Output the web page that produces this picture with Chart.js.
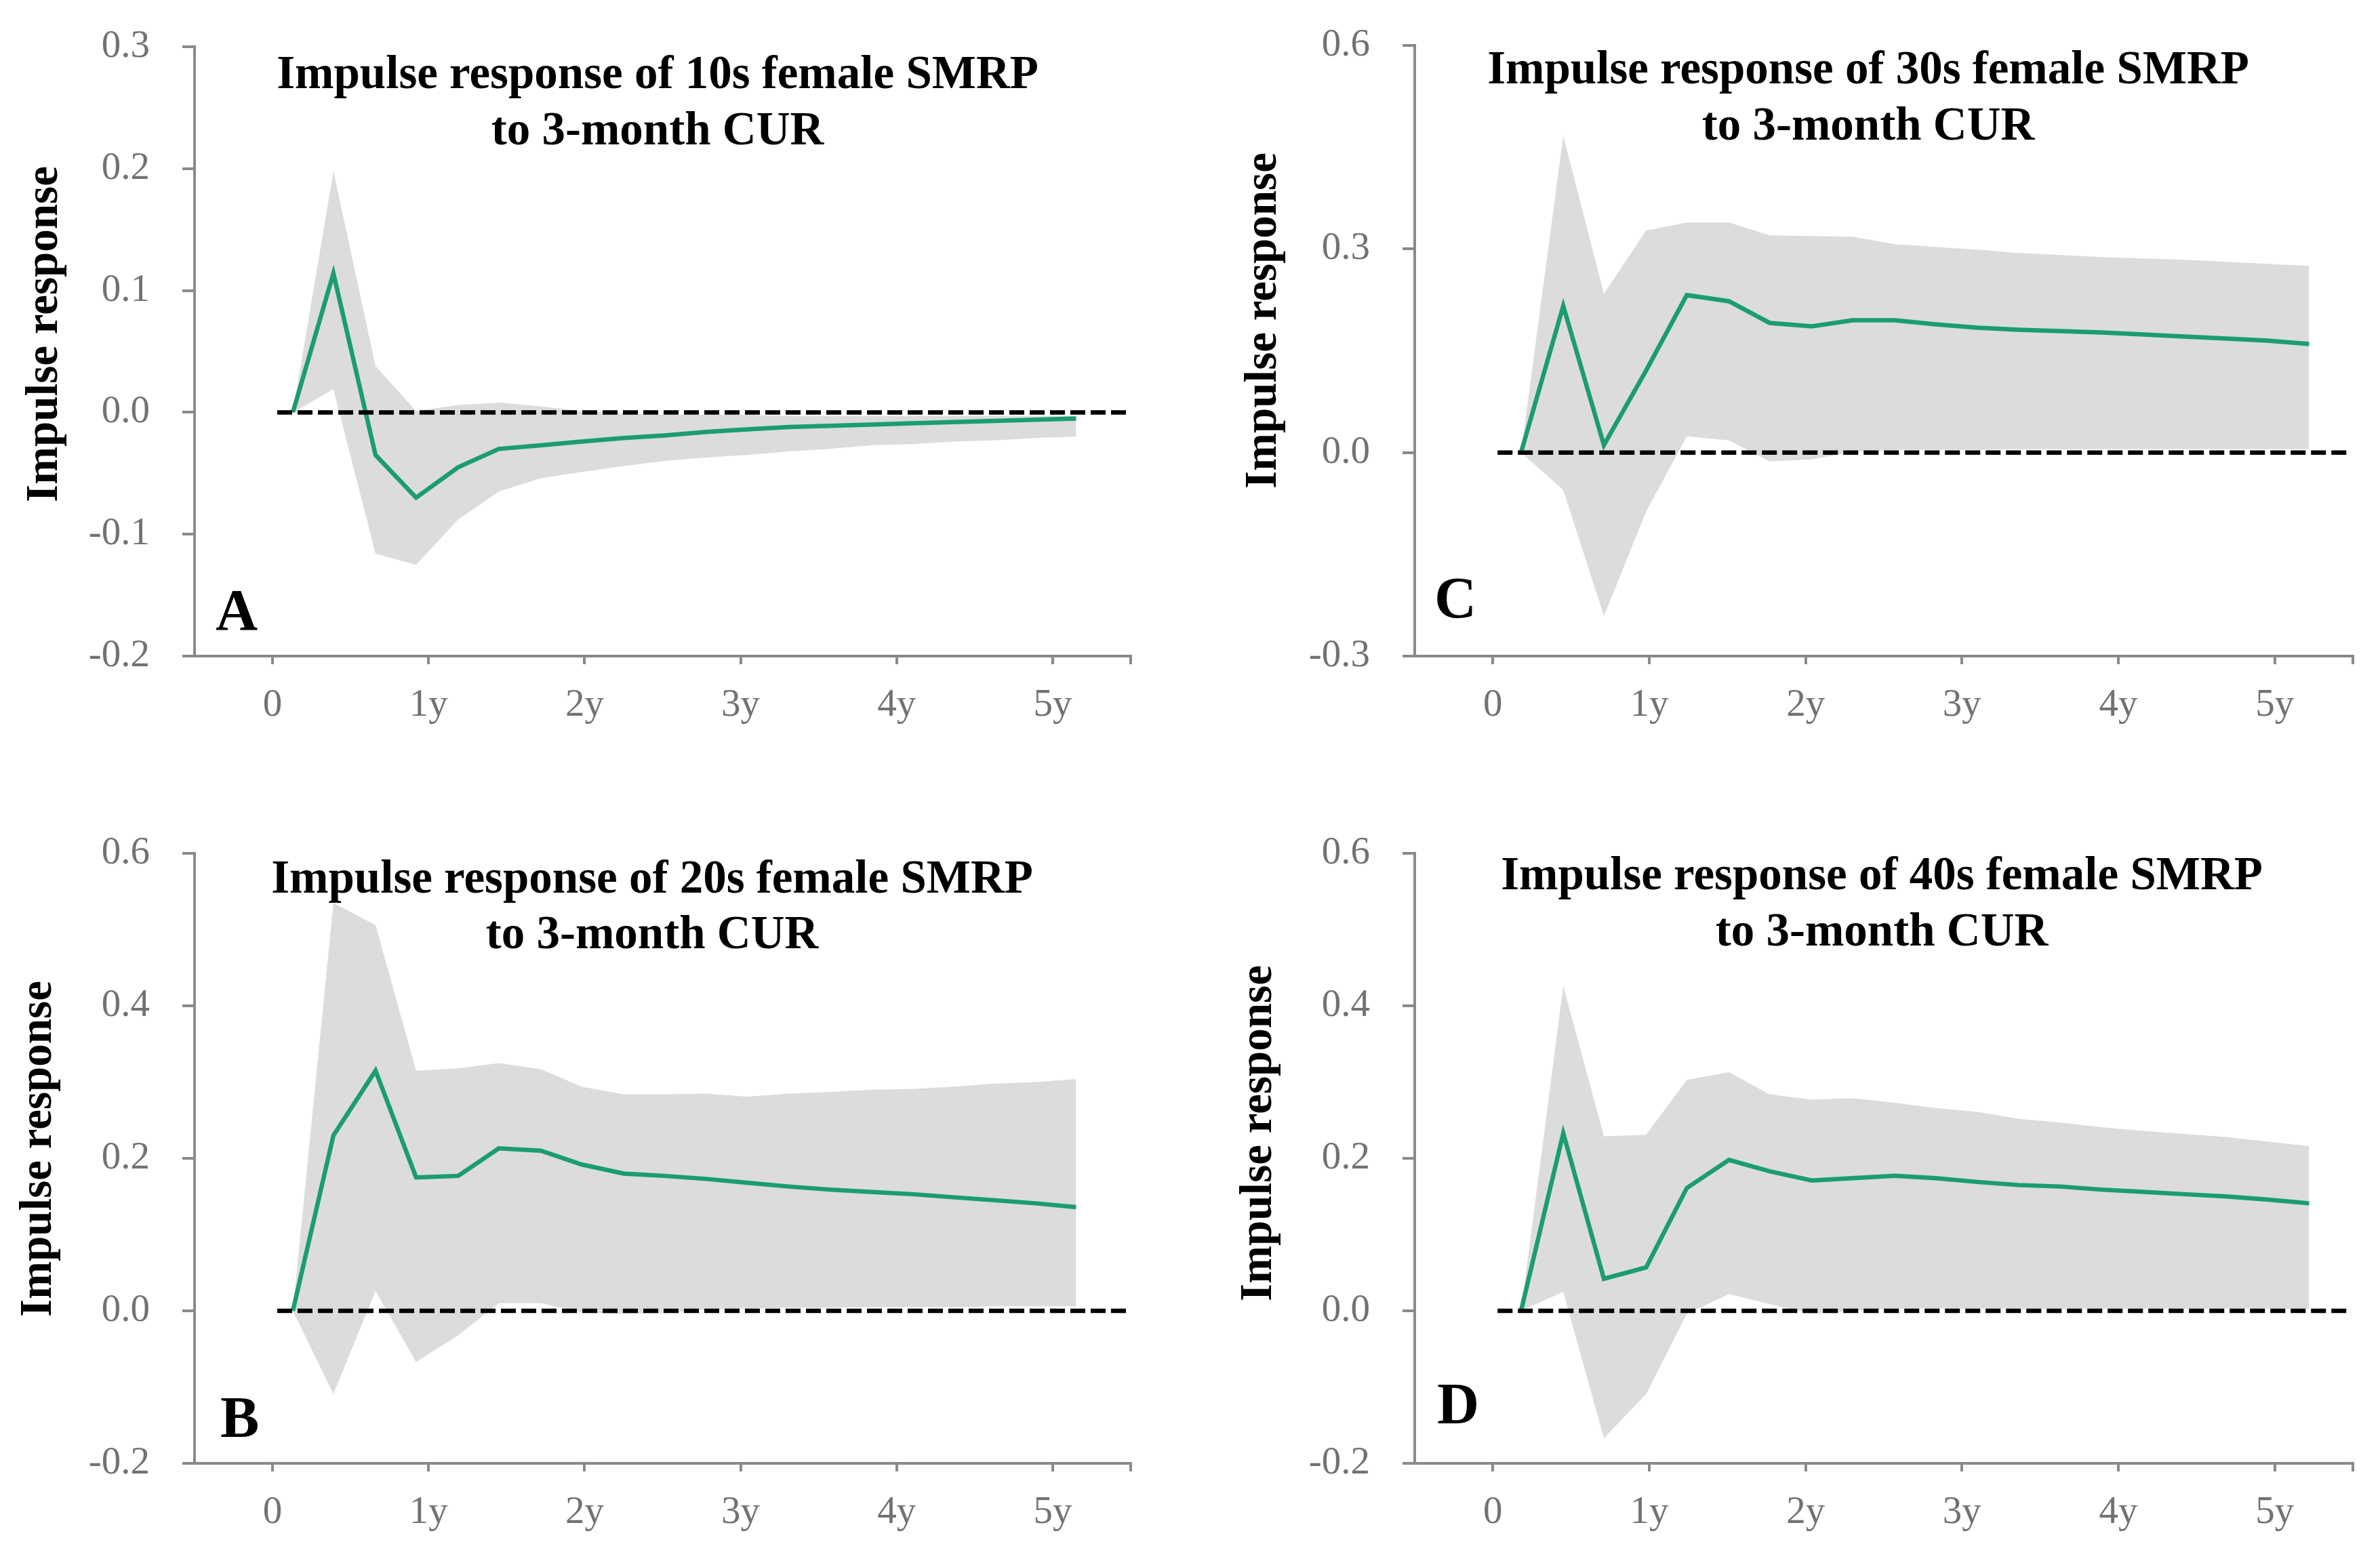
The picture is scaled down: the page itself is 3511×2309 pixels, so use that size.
<!DOCTYPE html>
<html>
<head>
<meta charset="utf-8">
<script src="https://cdn.jsdelivr.net/npm/chart.js@4.4.1/dist/chart.umd.min.js"></script>
<style>
  html, body { margin: 0; padding: 0; background: #fff; }
  #wrap { position: relative; width: 3511px; height: 2309px; overflow: hidden; }
  .panel { position: absolute; }
</style>
</head>
<body>
<div id="wrap">
  <canvas id="chartA" class="panel" width="1755" height="1155" style="left:0;top:0"></canvas>
  <canvas id="chartC" class="panel" width="1756" height="1155" style="left:1755px;top:0"></canvas>
  <canvas id="chartB" class="panel" width="1755" height="1154" style="left:0;top:1155px"></canvas>
  <canvas id="chartD" class="panel" width="1756" height="1154" style="left:1755px;top:1155px"></canvas>
</div>
<script>
// horizons (years) of the plotted quarters, left and right column
const horizonLeft  = [0.13, 0.39, 0.66, 0.92, 1.19, 1.45, 1.72, 1.98, 2.25, 2.51, 2.78, 3.04, 3.31, 3.57, 3.83, 4.10, 4.36, 4.63, 4.89, 5.15];
const horizonRight = [0.18, 0.45, 0.71, 0.98, 1.24, 1.51, 1.77, 2.04, 2.30, 2.57, 2.83, 3.10, 3.36, 3.63, 3.89, 4.16, 4.42, 4.69, 4.95, 5.22];

const xTicks = [0, 1, 2, 3, 4, 5, 5.5];
const zeroLineX = [0.03, 5.48];

// 10s female
const irf10 = [0.000, 0.114, -0.035, -0.070, -0.045, -0.030, -0.027, -0.024, -0.021, -0.019, -0.016, -0.014, -0.012, -0.011, -0.010, -0.009, -0.008, -0.007, -0.006, -0.005];
const hi10  = [0.000, 0.198, 0.038, 0.001, 0.006, 0.008, 0.005, 0.001, -0.001, -0.002, -0.002, -0.002, -0.003, -0.003, -0.003, -0.003, -0.003, -0.003, -0.003, -0.003];
const lo10  = [0.000, 0.019, -0.116, -0.125, -0.088, -0.065, -0.054, -0.049, -0.044, -0.040, -0.037, -0.035, -0.032, -0.030, -0.027, -0.026, -0.024, -0.023, -0.021, -0.020];

// 20s female
const irf20 = [0.000, 0.230, 0.315, 0.175, 0.177, 0.213, 0.210, 0.192, 0.180, 0.177, 0.173, 0.168, 0.163, 0.159, 0.156, 0.153, 0.149, 0.145, 0.141, 0.136];
const hi20  = [0.000, 0.535, 0.506, 0.315, 0.318, 0.325, 0.317, 0.294, 0.284, 0.284, 0.285, 0.281, 0.285, 0.287, 0.290, 0.291, 0.294, 0.298, 0.300, 0.304];
const lo20  = [0.000, -0.109, 0.026, -0.067, -0.032, 0.010, 0.010, -0.002, -0.004, -0.003, 0.002, 0.003, 0.004, 0.004, 0.005, 0.005, 0.005, 0.006, 0.006, 0.006];

// 30s female
const irf30 = [0.000, 0.216, 0.011, 0.121, 0.232, 0.223, 0.191, 0.186, 0.195, 0.195, 0.189, 0.184, 0.181, 0.179, 0.177, 0.174, 0.171, 0.168, 0.165, 0.160];
const hi30  = [0.000, 0.467, 0.234, 0.327, 0.339, 0.339, 0.320, 0.319, 0.318, 0.307, 0.303, 0.299, 0.294, 0.291, 0.288, 0.286, 0.284, 0.281, 0.278, 0.275];
const lo30  = [0.000, -0.055, -0.241, -0.087, 0.024, 0.018, -0.013, -0.010, 0.001, 0.004, 0.004, 0.004, 0.005, 0.005, 0.005, 0.005, 0.005, 0.005, 0.005, 0.005];

// 40s female
const irf40 = [0.000, 0.233, 0.042, 0.057, 0.161, 0.198, 0.183, 0.171, 0.174, 0.177, 0.174, 0.169, 0.165, 0.163, 0.159, 0.156, 0.153, 0.150, 0.146, 0.141];
const hi40  = [0.000, 0.426, 0.229, 0.231, 0.303, 0.313, 0.284, 0.277, 0.279, 0.273, 0.266, 0.261, 0.252, 0.247, 0.241, 0.236, 0.232, 0.228, 0.222, 0.216];
const lo40  = [0.000, 0.025, -0.167, -0.109, -0.004, 0.022, 0.009, -0.004, 0.000, 0.003, 0.003, 0.003, 0.003, 0.003, 0.003, 0.003, 0.003, 0.003, 0.003, 0.003];

const GREEN = '#1b9c73';
const BAND = '#dcdcdc';
const AXIS = '#8a8a8a';
const TICK_TEXT = '#727272';
const SERIF = '"Liberation Serif", "Times New Roman", serif';

// draws titles, panel letter and rotated y title
const panelText = {
    id: 'panelText',
    afterDraw(chart, args, opts) {
        const ctx = chart.ctx;
        ctx.save();
        ctx.fillStyle = '#000';

        ctx.textAlign = 'center';
        ctx.textBaseline = 'middle';
        ctx.font = 'bold 69px ' + SERIF;
        opts.title.forEach((line, i) => ctx.fillText(line, opts.titleX, opts.titleY[i]));

        ctx.textAlign = 'left';
        ctx.font = 'bold 86px ' + SERIF;
        ctx.fillText(opts.letter, opts.letterX, opts.letterY);

        ctx.translate(opts.yTitleX, opts.yTitleY);
        ctx.rotate(-Math.PI / 2);
        ctx.textAlign = 'center';
        ctx.font = 'bold 67px ' + SERIF;
        ctx.fillText('Impulse response', 0, 0);
        ctx.restore();
    }
};

function toPoints(xs, ys) {
    return xs.map((x, i) => ({ x: x, y: ys[i] }));
}

function makePanel(id, p) {
    const ctx = document.getElementById(id);
    return new Chart(ctx, {
        type: 'line',
        data: {
            datasets: [
                {
                    // zero line
                    data: zeroLineX.map(x => ({ x: x, y: 0 })),
                    borderColor: '#000',
                    borderWidth: 6.5,
                    borderDash: [22, 8],
                    pointRadius: 0,
                    fill: false,
                    order: 0
                },
                {
                    data: toPoints(p.horizon, p.irf),
                    borderColor: GREEN,
                    borderWidth: 6.5,
                    pointRadius: 0,
                    tension: 0,
                    fill: false,
                    order: 1
                },
                {
                    data: toPoints(p.horizon, p.hi),
                    borderWidth: 0,
                    pointRadius: 0,
                    backgroundColor: BAND,
                    fill: '+1',
                    order: 2
                },
                {
                    data: toPoints(p.horizon, p.lo),
                    borderWidth: 0,
                    pointRadius: 0,
                    fill: false,
                    order: 3
                }
            ]
        },
        options: {
            responsive: false,
            animation: false,
            devicePixelRatio: 1,
            layout: { padding: { left: 0, top: p.padTop, right: p.padRight, bottom: 0 } },
            plugins: {
                legend: { display: false },
                tooltip: { enabled: false },
                panelText: p.text
            },
            scales: {
                x: {
                    type: 'linear',
                    min: -0.5,
                    max: 5.5,
                    afterBuildTicks: scale => { scale.ticks = xTicks.map(v => ({ value: v })); },
                    afterFit: scale => { scale.height = p.xAxisHeight; },
                    border: { color: AXIS, width: 4 },
                    grid: { drawOnChartArea: false, drawTicks: true, tickLength: 12, color: AXIS, lineWidth: 4 },
                    ticks: {
                        autoSkip: false,
                        maxRotation: 0,
                        padding: 27,
                        color: TICK_TEXT,
                        font: { family: SERIF, size: 57 },
                        callback: v => v === 0 ? '0' : (Number.isInteger(v) ? v + 'y' : '')
                    }
                },
                y: {
                    min: p.yMin,
                    max: p.yMax,
                    afterFit: scale => {
                        scale.width = p.yAxisWidth;
                        // keep label overflow from pushing the plot area down
                        scale.paddingTop = 30;
                        scale.paddingBottom = 30;
                    },
                    border: { color: AXIS, width: 4 },
                    grid: { drawOnChartArea: false, drawTicks: true, tickLength: 18, color: AXIS, lineWidth: 4 },
                    ticks: {
                        stepSize: p.yStep,
                        padding: 48,
                        color: TICK_TEXT,
                        font: { family: SERIF, size: 57 },
                        callback: v => Math.abs(v) < 1e-9 ? '0.0' : v.toFixed(1)
                    }
                }
            }
        },
        plugins: [panelText]
    });
}

makePanel('chartA', {
    horizon: horizonLeft, irf: irf10, hi: hi10, lo: lo10,
    yMin: -0.2, yMax: 0.3, yStep: 0.1,
    padTop: 69, padRight: 87, yAxisWidth: 287, xAxisHeight: 187,
    text: {
        title: ['Impulse response of 10s female SMRP', 'to 3-month CUR'],
        titleX: 970, titleY: [112, 195],
        letter: 'A', letterX: 318, letterY: 907,
        yTitleX: 67, yTitleY: 493
    }
});

makePanel('chartC', {
    horizon: horizonRight, irf: irf30, hi: hi30, lo: lo30,
    yMin: -0.3, yMax: 0.6, yStep: 0.3,
    padTop: 67, padRight: 40, yAxisWidth: 332, xAxisHeight: 187,
    text: {
        title: ['Impulse response of 30s female SMRP', 'to 3-month CUR'],
        titleX: 1001, titleY: [105, 188],
        letter: 'C', letterX: 361, letterY: 889,
        yTitleX: 110, yTitleY: 473
    }
});

makePanel('chartB', {
    horizon: horizonLeft, irf: irf20, hi: hi20, lo: lo20,
    yMin: -0.2, yMax: 0.6, yStep: 0.2,
    padTop: 104, padRight: 87, yAxisWidth: 287, xAxisHeight: 150,
    text: {
        title: ['Impulse response of 20s female SMRP', 'to 3-month CUR'],
        titleX: 962, titleY: [144, 226],
        letter: 'B', letterX: 325, letterY: 943,
        yTitleX: 58, yTitleY: 540
    }
});

makePanel('chartD', {
    horizon: horizonRight, irf: irf40, hi: hi40, lo: lo40,
    yMin: -0.2, yMax: 0.6, yStep: 0.2,
    padTop: 104, padRight: 40, yAxisWidth: 332, xAxisHeight: 150,
    text: {
        title: ['Impulse response of 40s female SMRP', 'to 3-month CUR'],
        titleX: 1021, titleY: [139, 222],
        letter: 'D', letterX: 365, letterY: 923,
        yTitleX: 103, yTitleY: 517
    }
});
</script>
</body>
</html>
